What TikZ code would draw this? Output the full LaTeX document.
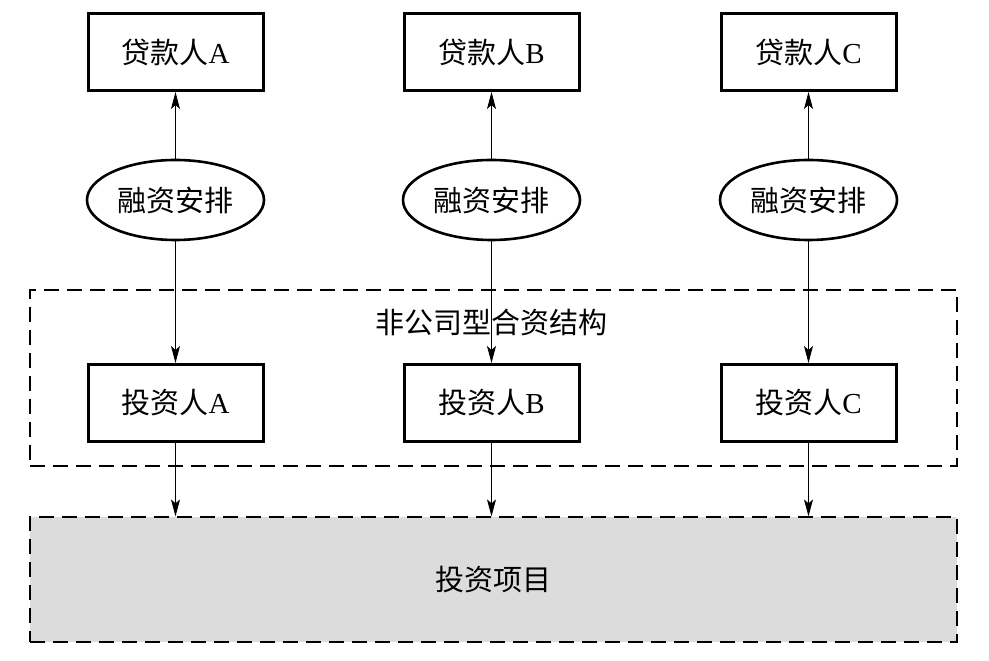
\documentclass[tikz,border=0pt]{standalone}
\usepackage{fontspec}
\usepackage{xcolor}
\usepackage{tikz}
\usetikzlibrary{arrows.meta, shapes.geometric}
\setmainfont{Liberation Serif}
\newfontfamily\cjk{Noto Sans CJK SC}
\definecolor{projgray}{RGB}{220, 220, 220}

\tikzset{
  partybox/.style={draw, line width=3pt, minimum width=175pt, minimum height=77pt, inner sep=0pt},
  finoval/.style={draw, ellipse, line width=2.6pt, minimum width=177pt, minimum height=80pt, inner sep=0pt},
  dashbox/.style={draw, line width=1.2pt, dash pattern=on 15pt off 8pt, inner sep=0pt},
  flow/.style={line width=0.9pt, -{Stealth[length=17pt, width=9pt, inset=4pt]}},
}

\begin{document}
\begin{tikzpicture}[x=1pt,y=1pt, font=\fontsize{29}{34}\selectfont]
\useasboundingbox (0,0) rectangle (989,661);
% Joint venture frame
\node[dashbox, minimum width=927pt, minimum height=176pt] (jv) at (493.5,283) {};
\node (jvtitle) at (491,339) {\cjk 非公司型合资结构};
% Investment project
\node[dashbox, fill=projgray, minimum width=927pt, minimum height=125pt] (proj) at (493.5,81.5) {};
\node (projtext) at (493,81) {\cjk 投资项目};
% Lenders, financing, investors
\foreach \n/\x in {A/175.5, B/491.5, C/808.5} {
  \node[partybox] (lend\n) at (\x,609) {{\cjk 贷款人}\n};
  \node[finoval] (fin\n) at (\x,461) {\cjk 融资安排};
  \node[partybox, fill=white] (inv\n) at (\x,258) {{\cjk 投资人}\n};
  \draw[flow] (fin\n.north) -- (lend\n.south);
  \draw[flow] (fin\n.south) -- (inv\n.north);
  \draw[flow] (inv\n.south) -- (inv\n.south |- proj.north);
}
\end{tikzpicture}
\end{document}
